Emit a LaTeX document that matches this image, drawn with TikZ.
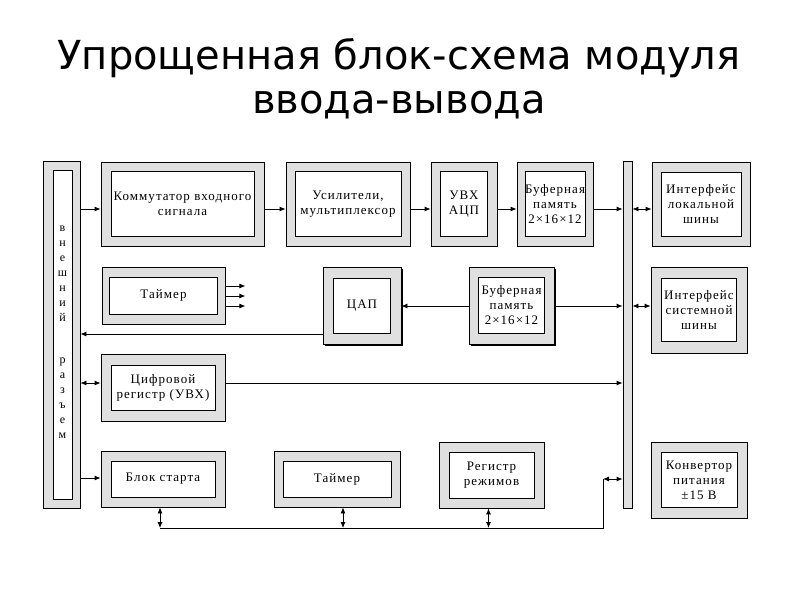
\documentclass[tikz,border=0pt]{standalone}
\usepackage{fontspec}
\usetikzlibrary{arrows.meta,shadows}
\newfontfamily\titlefont{DejaVu Sans}
\newfontfamily\blokfont[LetterSpace=8]{Liberation Serif}

\tikzset{
  outer/.style={draw,fill=black!12,inner sep=0pt},
  inner/.style={draw,fill=white,inner sep=0pt,align=center,
    font=\blokfont\fontsize{13}{15}\selectfont},
  shadowed/.style={drop shadow={shadow xshift=1.5pt,shadow yshift=-1.5pt,
    fill=black,opacity=1}},
  arr/.style={-{Latex[length=6pt,width=5pt]}},
  darr/.style={{Latex[length=6pt,width=5pt]}-{Latex[length=6pt,width=5pt]}}
}
% outer grey frame + inner white box with text
\newcommand{\blok}[9][]{
    \node[outer,minimum width=#5pt,minimum height=#6pt,#1] (#2) at (#3,#4) {};
    \node[inner,minimum width=#7pt,minimum height=#8pt] (#2-in) at (#3,#4) {#9};
}

\begin{document}
\begin{tikzpicture}[x=1pt,y=-1pt,line width=0.8pt]
    \useasboundingbox (0,0) rectangle (800,600);
    \node[font=\titlefont\fontsize{40}{44}\selectfont,align=center,anchor=base] (title) at (399,113)
        {Упрощенная блок-схема модуля\\ввода-вывода};

    % connector and bus
    \node[outer,minimum width=37pt,minimum height=347pt] (razem) at (61.5,334.5) {};
    \node[inner,minimum width=19pt,minimum height=329pt] (razem-in) at (62.5,334.5) {};
    \node[font=\blokfont\fontsize{12}{15}\selectfont,align=center] (razem-txt) at (62.5,332)
        {в\\н\\е\\ш\\н\\и\\й\\[27pt]р\\а\\з\\ъ\\е\\м};
    \node[outer,minimum width=9pt,minimum height=347pt] (shina) at (627.5,334.5) {};

    % blocks
    \blok{komm}{182.5}{204}{163}{84}{143}{65}{Коммутатор входного\\сигнала}
    \blok{usil}{348}{204}{124}{84}{106}{65}{Усилители,\\мультиплексор}
    \blok{uvx}{464}{204}{66}{84}{47}{65}{УВХ\\АЦП}
    \blok{buf1}{555}{204}{76}{84}{55}{65}{Буферная\\память\\2×16×12}
    \blok{intloc}{701}{204}{98}{84}{80}{64}{Интерфейс\\локальной\\шины}
    \blok{tajm1}{163.5}{295.5}{123}{57}{108}{37}{Таймер}
    \blok[shadowed]{cap}{362}{305.5}{78}{77}{57}{55}{ЦАП}
    \blok[shadowed]{buf2}{511.5}{305.5}{85}{77}{66}{56}{Буферная\\память\\2×16×12}
    \blok{intsys}{699}{310}{96}{86}{75}{63}{Интерфейс\\системной\\шины}
    \blok{cifr}{163}{387.5}{124}{67}{104}{45}{Цифровой\\регистр (УВХ)}
    \blok{start}{163}{479}{124}{56}{104}{36}{Блок старта}
    \blok{tajm2}{337}{479}{126}{56}{108}{36}{Таймер}
    \blok{reg}{491.5}{475}{105}{66}{85}{46}{Регистр\\режимов}
    \blok{konv}{699}{480}{96}{76}{76}{55}{Конвертор\\питания\\±15 В}

    % top row
    \draw[arr] (razem.east |- 0,209) -- (komm.west |- 0,209);
    \draw[arr] (komm.east |- 0,209) -- (usil.west |- 0,209);
    \draw[arr] (usil.east |- 0,209) -- (uvx.west |- 0,209);
    \draw[arr] (uvx.east |- 0,209) -- (buf1.west |- 0,209);
    \draw[arr] (buf1.east |- 0,209) -- (shina.west |- 0,209);
    \draw[darr] (shina.east |- 0,209) -- (intloc.west |- 0,209);

    % middle
    \foreach \y in {286,296,306}
        \draw[arr] (tajm1.east |- 0,\y) -- ++(20,0);
    \draw[arr] (cap.west |- 0,334) -- (razem.east |- 0,334);
    \draw[arr] (buf2.west |- 0,306) -- (cap.east |- 0,306);
    \draw[arr] (buf2.east |- 0,306) -- (shina.west |- 0,306);
    \draw[darr] (shina.east |- 0,306) -- (intsys.west |- 0,306);
    \draw[darr] (razem.east |- 0,383) -- (cifr.west |- 0,383);
    \draw[arr] (cifr.east |- 0,383) -- (shina.west |- 0,383);
    \draw[arr] (razem.east |- 0,478) -- (start.west |- 0,478);

    % bottom bus
    \coordinate (bus-a) at ([xshift=-3pt]start.south);
    \coordinate (bus-b) at ([xshift=6pt]tajm2.south);
    \coordinate (bus-c) at ([xshift=-3pt]reg.south);
    \coordinate (bus-r) at (603,479);
    \draw[darr] (bus-a) -- (bus-a |- 0,528);
    \draw[darr] (bus-b) -- (bus-b |- 0,528);
    \draw[darr] (bus-c) -- (bus-c |- 0,528);
    \draw (bus-a |- 0,528) -- (bus-r |- 0,528) -- (bus-r);
    \draw[darr] (bus-r) -- (shina.west |- bus-r);
\end{tikzpicture}
\end{document}
